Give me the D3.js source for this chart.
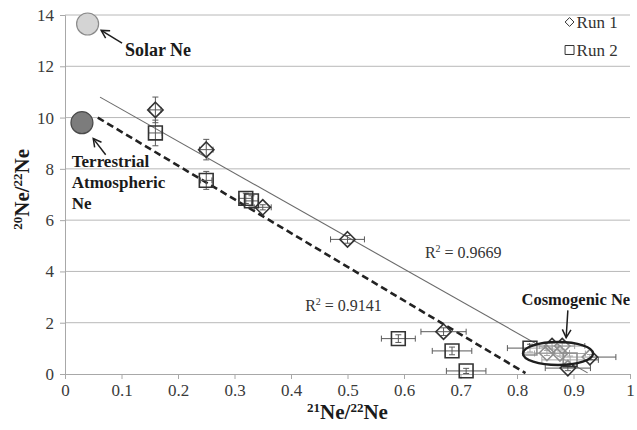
<!DOCTYPE html>
<html>
<head>
<meta charset="utf-8">
<script src="https://cdn.jsdelivr.net/npm/d3@7"></script>
<style>
  body { margin: 0; background: #fff; }
  svg { display: block; }
  text { font-family: "Liberation Serif", "Times New Roman", serif; }
</style>
</head>
<body>
<svg id="chart" width="637" height="430"></svg>
<script>
// Axis ticks
const xTicks = [0, 0.1, 0.2, 0.3, 0.4, 0.5, 0.6, 0.7, 0.8, 0.9, 1];
const yTicks = [0, 2, 4, 6, 8, 10, 12, 14];

// Run 1 (diamonds): 21Ne/22Ne, 20Ne/22Ne and their uncertainties
const run1X    = [0.16, 0.25, 0.35, 0.50, 0.67, 0.862, 0.880, 0.853, 0.876, 0.929, 0.890];
const run1Y    = [10.3, 8.75, 6.5, 5.25, 1.65, 1.09, 1.09, 0.82, 0.80, 0.66, 0.23];
const run1XErr = [0.010, 0.012, 0.015, 0.030, 0.040, 0.040, 0.040, 0.040, 0.045, 0.046, 0.040];
const run1YErr = [0.50, 0.40, 0.10, 0.15, 0.15, 0.12, 0.12, 0.10, 0.10, 0.10, 0.10];

// Run 2 (squares)
const run2X    = [0.16, 0.25, 0.320, 0.330, 0.59, 0.685, 0.71, 0.823, 0.894];
const run2Y    = [9.4, 7.55, 6.85, 6.75, 1.38, 0.90, 0.12, 1.01, 0.55];
const run2XErr = [0.012, 0.010, 0.012, 0.012, 0.030, 0.035, 0.035, 0.040, 0.050];
const run2YErr = [0.50, 0.35, 0.20, 0.20, 0.15, 0.15, 0.10, 0.15, 0.15];

// Neon end-members
const endNames = ["Solar Ne", "Terrestrial Atmospheric Ne"];
const endX     = [0.040, 0.030];
const endY     = [13.65, 9.80];

// Linear trends: 20Ne/22Ne = intercept + slope * 21Ne/22Ne
const trendNames      = ["Run 1", "Run 2"];
const trendIntercepts = [11.57, 10.76];
const trendSlopes     = [-12.46, -13.16];
const trendFrom       = [0.062, 0.058];
const trendTo         = [0.925, 0.815];
const trendR2         = ["0.9669", "0.9141"];

// Cosmogenic cluster outline (centre and semi-axes in data units)
const cosmoCentre = [0.8726, 0.80];
const cosmoSemiAxes = [0.062, 0.45];

const svg = d3.select("#chart");
const margin = { left: 65, right: 7, top: 15, bottom: 56 };
const W = 637, H = 430;

const x = d3.scaleLinear().domain([0, 1]).range([margin.left, W - margin.right]);
const y = d3.scaleLinear().domain([0, 14]).range([H - margin.bottom, margin.top]);

// Horizontal gridlines
svg.append("g")
  .selectAll("line")
  .data(yTicks.filter(d => d > 0))
  .join("line")
  .attr("x1", x(0)).attr("x2", x(1))
  .attr("y1", d => y(d)).attr("y2", d => y(d))
  .attr("stroke", "#b8b8b8").attr("stroke-width", 1);

// Axes
const xAxis = svg.append("g")
  .attr("transform", `translate(0,${y(0)})`)
  .call(d3.axisBottom(x).tickValues(xTicks).tickSize(5).tickPadding(5)
    .tickFormat(d => d === 0 ? "0" : d === 1 ? "1" : d3.format(".1f")(d)));
const yAxis = svg.append("g")
  .attr("transform", `translate(${x(0)},0)`)
  .call(d3.axisLeft(y).tickValues(yTicks).tickSize(5).tickPadding(6));
[xAxis, yAxis].forEach(g => {
  g.attr("font-family", null).attr("font-size", null);
  g.select(".domain").attr("stroke", "#a8a8a8");
  g.selectAll(".tick line").attr("stroke", "#a8a8a8");
  g.selectAll(".tick text")
    .attr("fill", "#3a3a3a")
    .style("font-family", "'Liberation Serif', serif")
    .style("font-size", "17px");
});

// Axis titles with superscript mass numbers
function isotopeRatio(sel, a, b) {
  sel.append("tspan").attr("font-size", "13px").attr("dy", "-7").text(a);
  sel.append("tspan").attr("font-size", "21px").attr("dy", "7").text("Ne/");
  sel.append("tspan").attr("font-size", "13px").attr("dy", "-7").text(b);
  sel.append("tspan").attr("font-size", "21px").attr("dy", "7").text("Ne");
}
svg.append("text")
  .attr("x", x(0.5)).attr("y", 419)
  .attr("text-anchor", "middle").attr("font-weight", "bold").attr("fill", "#1a1a1a")
  .call(isotopeRatio, "21", "22");
svg.append("text")
  .attr("transform", `translate(29,${y(7.2)}) rotate(-90)`)
  .attr("text-anchor", "middle").attr("font-weight", "bold").attr("fill", "#1a1a1a")
  .call(isotopeRatio, "20", "22");

// Trend lines
const trendData = trendNames.map((n, i) => ({
  name: n, a: trendIntercepts[i], b: trendSlopes[i], x0: trendFrom[i], x1: trendTo[i], r2: trendR2[i]
}));
svg.append("g")
  .selectAll("line")
  .data(trendData)
  .join("line")
  .attr("x1", d => x(d.x0)).attr("y1", d => y(d.a + d.b * d.x0))
  .attr("x2", d => x(d.x1)).attr("y2", d => y(d.a + d.b * d.x1))
  .attr("stroke", (d, i) => i === 0 ? "#6a6a6a" : "#222")
  .attr("stroke-width", (d, i) => i === 0 ? 1.1 : 2.6)
  .attr("stroke-dasharray", (d, i) => i === 0 ? null : "7,4");

// R² labels
const r2Pos = [[0.637, 4.52], [0.425, 2.46]];
trendData.forEach((d, i) => {
  const t = svg.append("text")
    .attr("x", x(r2Pos[i][0])).attr("y", y(r2Pos[i][1]))
    .attr("fill", "#333").attr("font-size", "16px");
  t.append("tspan").text("R");
  t.append("tspan").attr("font-size", "10px").attr("dy", "-6").text("2");
  t.append("tspan").attr("dy", "6").text(" = " + d.r2);
});

// Error bars
function errorBars(xs, ys, xe, ye) {
  const g = svg.append("g").attr("stroke", "#5a5a5a").attr("stroke-width", 1);
  const cap = 3;
  xs.forEach((xv, i) => {
    const cx = x(xv), cy = y(ys[i]);
    const xl = x(xv - xe[i]), xr = x(xv + xe[i]);
    const yt = y(ys[i] + ye[i]), yb = y(ys[i] - ye[i]);
    g.append("line").attr("x1", xl).attr("x2", xr).attr("y1", cy).attr("y2", cy);
    g.append("line").attr("x1", xl).attr("x2", xl).attr("y1", cy - cap).attr("y2", cy + cap);
    g.append("line").attr("x1", xr).attr("x2", xr).attr("y1", cy - cap).attr("y2", cy + cap);
    g.append("line").attr("x1", cx).attr("x2", cx).attr("y1", yt).attr("y2", yb);
    g.append("line").attr("x1", cx - cap).attr("x2", cx + cap).attr("y1", yt).attr("y2", yt);
    g.append("line").attr("x1", cx - cap).attr("x2", cx + cap).attr("y1", yb).attr("y2", yb);
  });
}
errorBars(run1X, run1Y, run1XErr, run1YErr);
errorBars(run2X, run2Y, run2XErr, run2YErr);

// Markers
const diamond = d3.symbol().type(d3.symbolDiamond2).size(150);
const square = d3.symbol().type(d3.symbolSquare).size(190);
svg.append("g")
  .selectAll("path")
  .data(run1X.map((v, i) => [v, run1Y[i]]))
  .join("path")
  .attr("d", diamond)
  .attr("transform", d => `translate(${x(d[0])},${y(d[1])})`)
  .attr("fill", "none").attr("stroke", "#333").attr("stroke-width", 1.6);
svg.append("g")
  .selectAll("path")
  .data(run2X.map((v, i) => [v, run2Y[i]]))
  .join("path")
  .attr("d", square)
  .attr("transform", d => `translate(${x(d[0])},${y(d[1])})`)
  .attr("fill", "none").attr("stroke", "#333").attr("stroke-width", 1.6);

// Cosmogenic cluster outline
svg.append("ellipse")
  .attr("cx", x(cosmoCentre[0])).attr("cy", y(cosmoCentre[1]))
  .attr("rx", x(cosmoCentre[0] + cosmoSemiAxes[0]) - x(cosmoCentre[0]))
  .attr("ry", y(0) - y(cosmoSemiAxes[1]))
  .attr("fill", "rgba(255,255,255,0.45)")
  .attr("stroke", "#1e1e1e").attr("stroke-width", 2.4);

// End-member circles
svg.append("g")
  .selectAll("circle")
  .data(endNames.map((n, i) => ({ n, x: endX[i], y: endY[i] })))
  .join("circle")
  .attr("cx", d => x(d.x)).attr("cy", d => y(d.y)).attr("r", 11)
  .attr("fill", (d, i) => i === 0 ? "#d4d4d4" : "#7c7c7c")
  .attr("stroke", (d, i) => i === 0 ? "#8a8a8a" : "#4a4a4a").attr("stroke-width", 1.2);

// Annotation arrows
function arrow(x1, y1, x2, y2) {
  const g = svg.append("g").attr("stroke", "#1e1e1e").attr("stroke-width", 1.5).attr("fill", "none");
  g.append("line").attr("x1", x1).attr("y1", y1).attr("x2", x2).attr("y2", y2);
  const ang = Math.atan2(y2 - y1, x2 - x1), L = 9, spread = 0.5;
  g.append("path").attr("d",
    `M${x2 - L * Math.cos(ang - spread)},${y2 - L * Math.sin(ang - spread)}` +
    `L${x2},${y2}` +
    `L${x2 - L * Math.cos(ang + spread)},${y2 - L * Math.sin(ang + spread)}`);
}
arrow(x(0.101), y(12.9), x(0.064), y(13.4));
arrow(x(0.072), y(8.55), x(0.050), y(9.18));
arrow(x(0.890), y(2.48), x(0.887), y(1.42));

// Annotation labels
const label = (tx, ty, str, size) => svg.append("text")
  .attr("x", tx).attr("y", ty).attr("font-weight", "bold")
  .attr("font-size", size).attr("fill", "#1a1a1a").text(str);
label(x(0.106), y(12.4), "Solar Ne", "18px");
label(x(0.012), y(8.07), "Terrestrial", "17px");
label(x(0.012), y(7.25), "Atmospheric", "17px");
label(x(0.012), y(6.43), "Ne", "17px");
label(x(0.808), y(2.7), "Cosmogenic Ne", "16.5px");

// Legend
const legend = svg.append("g").attr("transform", `translate(${x(0.893)},0)`);
const legendItems = [{ name: "Run 1", sym: d3.symbolDiamond2, sz: 50, ly: 22 },
                     { name: "Run 2", sym: d3.symbolSquare, sz: 80, ly: 50 }];
legendItems.forEach(d => {
  legend.append("path")
    .attr("d", d3.symbol().type(d.sym).size(d.sz)())
    .attr("transform", `translate(0,${d.ly})`)
    .attr("fill", "none").attr("stroke", "#333").attr("stroke-width", 1);
  legend.append("text").attr("x", 7).attr("y", d.ly + 6)
    .attr("font-size", "17px").attr("fill", "#333").text(d.name);
});
</script>
</body>
</html>
